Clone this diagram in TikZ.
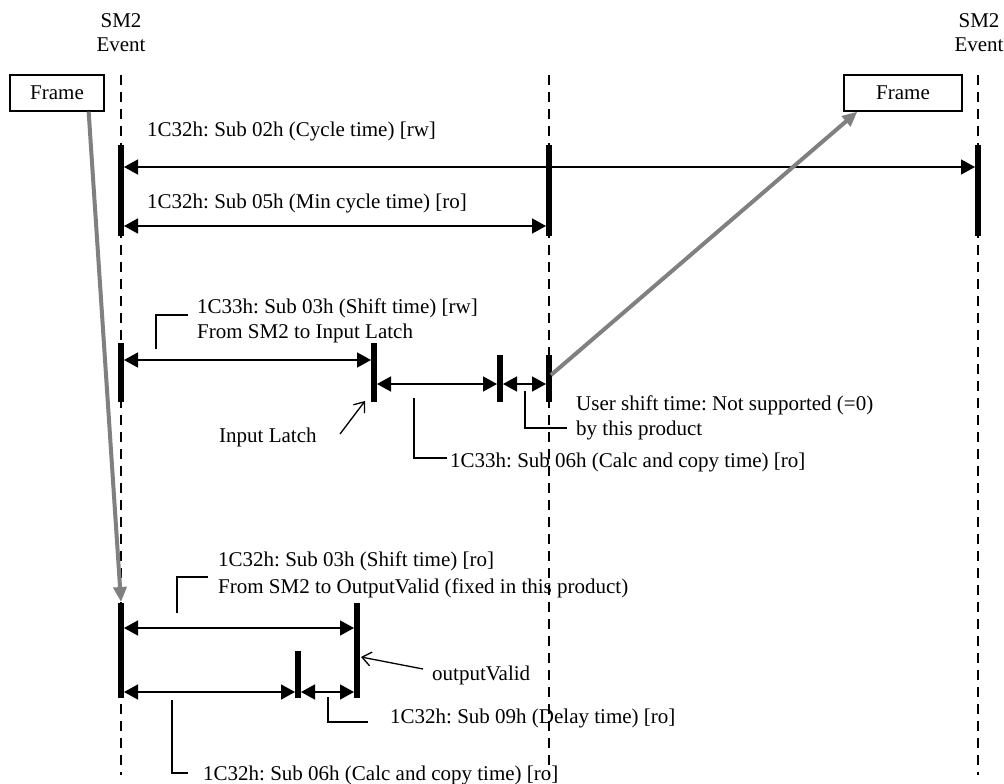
\documentclass[tikz,border=0pt]{standalone}
\usepackage{fontspec}
\setmainfont{Liberation Serif}
\usetikzlibrary{arrows.meta}
\frenchspacing
\begin{document}
\begin{tikzpicture}[x=1pt,y=-1pt,
  txt/.style={anchor=base west, inner sep=0pt, font=\fontsize{21}{24}\selectfont},
  evlabel/.style={anchor=base, inner sep=0pt, font=\fontsize{21}{24}\selectfont},
  dim/.style={line width=1.6pt, {Triangle[length=14pt,width=15pt]}-{Triangle[length=14pt,width=15pt]}},
  bar/.style={line width=6pt},
  evline/.style={line width=2.2pt, dash pattern=on 10pt off 7pt},
  lead/.style={line width=1.3pt},
  grayarr/.style={line width=4pt, draw={rgb,255:red,128;green,128;blue,128}, -{Triangle[length=15pt,width=13pt]}},
  openarr/.style={line width=1.3pt, -{Straight Barb[length=9pt,width=14pt]}},
  framebox/.style={draw, line width=1.3pt, inner sep=0pt, minimum height=36pt, font=\fontsize{21}{24}\selectfont}
]
\useasboundingbox (0,0) rectangle (1004,784);

% event lines
\coordinate (eL1) at (121,75);  \coordinate (eL2) at (121,775);
\coordinate (eM1) at (549,75);  \coordinate (eM2) at (549,775);
\coordinate (eR1) at (978,75);  \coordinate (eR2) at (978,775);
\draw[evline] (eL1) -- (eL2);
\draw[evline] (eM1) -- (eM2);
\draw[evline] (eR1) -- (eR2);

% SM2 Event labels
\node[evlabel] (smL1) at (121,28) {SM2};
\node[evlabel] (smL2) at (121,52) {Event};
\node[evlabel] (smR1) at (979,28) {SM2};
\node[evlabel] (smR2) at (979,52) {Event};

% Frames
\node[framebox, minimum width=94pt] (fL) at (57,93) {Frame};
\node[framebox, minimum width=118pt] (fR) at (903,93) {Frame};

% ---- top section bars
\coordinate (t1a) at (121,145); \coordinate (t1b) at (121,236);
\coordinate (t2a) at (549,145); \coordinate (t2b) at (549,236);
\coordinate (t3a) at (978,145); \coordinate (t3b) at (978,236);
\draw[bar] (t1a) -- (t1b);
\draw[bar] (t2a) -- (t2b);
\draw[bar] (t3a) -- (t3b);
\coordinate (c1) at (124,167); \coordinate (c2) at (975,167);
\draw[dim] (c1) -- (c2);
\coordinate (m1) at (124,226); \coordinate (m2) at (546,226);
\draw[dim] (m1) -- (m2);
\node[txt] (lc) at (147,136) {1C32h: Sub 02h (Cycle time) [rw]};
\node[txt] (lm) at (147,208) {1C32h: Sub 05h (Min cycle time) [ro]};

% ---- middle section
\coordinate (ma1) at (121,343); \coordinate (ma2) at (121,402);
\coordinate (mb1) at (374,343); \coordinate (mb2) at (374,402);
\coordinate (mc1) at (500,355); \coordinate (mc2) at (500,402);
\coordinate (md1) at (549,355); \coordinate (md2) at (549,402);
\draw[bar] (ma1) -- (ma2);
\draw[bar] (mb1) -- (mb2);
\draw[bar] (mc1) -- (mc2);
\draw[bar] (md1) -- (md2);
\coordinate (s1) at (124,360); \coordinate (s2) at (371,360);
\draw[dim] (s1) -- (s2);
\coordinate (k1) at (377,384); \coordinate (k2) at (497,384);
\draw[dim] (k1) -- (k2);
\coordinate (u1) at (503,384); \coordinate (u2) at (546,384);
\draw[dim] (u1) -- (u2);

\node[txt] (ls1) at (197,313) {1C33h: Sub 03h (Shift time) [rw]};
\node[txt] (ls2) at (197,338) {From SM2 to Input Latch};
\coordinate (ld1) at (156,349);
\coordinate (ld2) at (188,315);
\draw[lead] (ld1) |- (ld2);

\node[txt] (lil) at (219,442) {Input Latch};
\coordinate (ila) at (340,434); \coordinate (ilb) at (365,401);
\draw[openarr] (ila) -- (ilb);

\node[txt] (lcc) at (450,467) {1C33h: Sub 06h (Calc and copy time) [ro]};
\coordinate (lk1) at (414,398); \coordinate (lk2) at (447,458);
\draw[lead] (lk1) |- (lk2);

\node[txt] (lu1) at (576,410) {User shift time: Not supported (=0)};
\node[txt] (lu2) at (576,435) {by this product};
\coordinate (lu3) at (525,391); \coordinate (lu4) at (567,428);
\draw[lead] (lu3) |- (lu4);

% ---- bottom section
\coordinate (ba1) at (121,603); \coordinate (ba2) at (121,698);
\coordinate (bb1) at (357,603); \coordinate (bb2) at (357,698);
\coordinate (bc1) at (298,651); \coordinate (bc2) at (298,698);
\draw[bar] (ba1) -- (ba2);
\draw[bar] (bb1) -- (bb2);
\draw[bar] (bc1) -- (bc2);
\coordinate (o1) at (124,628); \coordinate (o2) at (354,628);
\draw[dim] (o1) -- (o2);
\coordinate (p1) at (124,692); \coordinate (p2) at (295,692);
\draw[dim] (p1) -- (p2);
\coordinate (q1) at (301,692); \coordinate (q2) at (354,692);
\draw[dim] (q1) -- (q2);

\node[txt] (lo1) at (218,566) {1C32h: Sub 03h (Shift time) [ro]};
\node[txt] (lo2) at (218,593) {From SM2 to OutputValid (fixed in this product)};
\coordinate (lo3) at (177,613); \coordinate (lo4) at (208,577);
\draw[lead] (lo3) |- (lo4);

\node[txt] (lov) at (432,680) {outputValid};
\coordinate (ova) at (423,669); \coordinate (ovb) at (361,657);
\draw[openarr] (ova) -- (ovb);

\node[txt] (ld9) at (390,723) {1C32h: Sub 09h (Delay time) [ro]};
\coordinate (l91) at (328,697); \coordinate (l92) at (368,722);
\draw[lead] (l91) |- (l92);

\node[txt] (ld6) at (203,780) {1C32h: Sub 06h (Calc and copy time) [ro]};
\coordinate (l61) at (172,700); \coordinate (l62) at (188,773);
\draw[lead] (l61) |- (l62);

% gray frame arrows
\coordinate (gR0) at (551,375);
\draw[grayarr] (gR0) -- ([xshift=14pt]fR.south west);
\coordinate (gL1) at (121,602);
\draw[grayarr] ([xshift=-16pt]fL.south east) -- (gL1);
\end{tikzpicture}
\end{document}
